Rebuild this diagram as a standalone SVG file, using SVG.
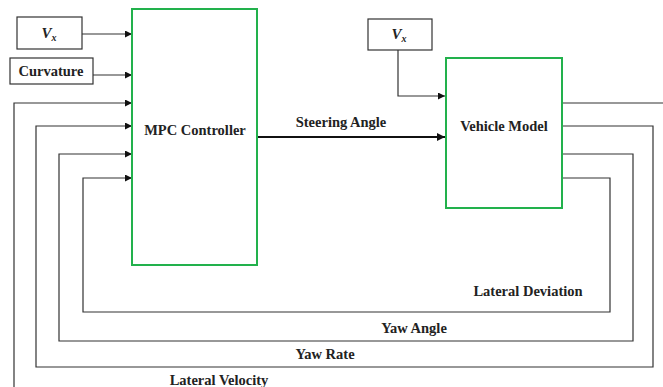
<svg xmlns="http://www.w3.org/2000/svg" width="663" height="387" viewBox="0 0 663 387">
<style>
.bg{fill:#ffffff}
.blk{fill:#ffffff;stroke:#22b14c;stroke-width:2}
.box{fill:#ffffff;stroke:#333333;stroke-width:1.2}
.ln{fill:none;stroke:#333333;stroke-width:1.2}
.thick{fill:none;stroke:#111111;stroke-width:2}
text{font-family:'Liberation Serif','DejaVu Serif',serif;font-weight:700;font-size:14.5px;fill:#222222}
.v{font-style:italic;font-size:15px}
.s{font-size:10px}
</style>
<defs>
<marker id="ah" viewBox="0 0 10 10" refX="10" refY="5" markerWidth="8" markerHeight="7" markerUnits="userSpaceOnUse" orient="auto">
<path d="M0,0 L10,5 L0,10 z" fill="#111111"/>
</marker>
<marker id="ah2" viewBox="0 0 10 10" refX="10" refY="5" markerWidth="9" markerHeight="8" markerUnits="userSpaceOnUse" orient="auto">
<path d="M0,0 L10,5 L0,10 z" fill="#111111"/>
</marker>
</defs>
<rect class="bg" x="0" y="0" width="663" height="387"/>

<g id="connectors">
<path class="ln" d="M82,34 H132" marker-end="url(#ah)"/>
<path class="ln" d="M93,75 H132" marker-end="url(#ah)"/>
<path class="thick" d="M257,137 H445" marker-end="url(#ah2)"/>
<path class="ln" d="M398,50 V96 H445" marker-end="url(#ah)"/>
<path class="ln" d="M562,103 H663"/>
<path class="ln" d="M14,387 V103 H132" marker-end="url(#ah)"/>
<path class="ln" d="M562,126 H653 V367 H36 V126 H132" marker-end="url(#ah)"/>
<path class="ln" d="M562,154 H633 V341 H59 V154 H132" marker-end="url(#ah)"/>
<path class="ln" d="M562,178 H610 V312 H83 V178 H132" marker-end="url(#ah)"/>
<text x="341" y="127" text-anchor="middle">Steering Angle</text>
<text x="528" y="296" text-anchor="middle">Lateral Deviation</text>
<text x="414" y="333" text-anchor="middle">Yaw Angle</text>
<text x="325" y="359" text-anchor="middle">Yaw Rate</text>
<text x="219" y="385" text-anchor="middle">Lateral Velocity</text>
</g>

<g id="vx1">
<rect class="box" x="17" y="17" width="65" height="32"/>
<text class="v" x="49" y="38" text-anchor="middle">V<tspan class="s" dy="3">x</tspan></text>
</g>
<g id="curvature">
<rect class="box" x="10" y="58" width="83" height="26"/>
<text x="51" y="76" text-anchor="middle">Curvature</text>
</g>
<g id="mpc">
<rect class="blk" x="132" y="9" width="125" height="256"/>
<text x="195" y="135" text-anchor="middle">MPC Controller</text>
</g>
<g id="vx2">
<rect class="box" x="368" y="19" width="64" height="31"/>
<text class="v" x="399" y="39" text-anchor="middle">V<tspan class="s" dy="3">x</tspan></text>
</g>
<g id="vehicle">
<rect class="blk" x="446" y="58" width="116" height="150"/>
<text x="504" y="131" text-anchor="middle">Vehicle Model</text>
</g>
</svg>
